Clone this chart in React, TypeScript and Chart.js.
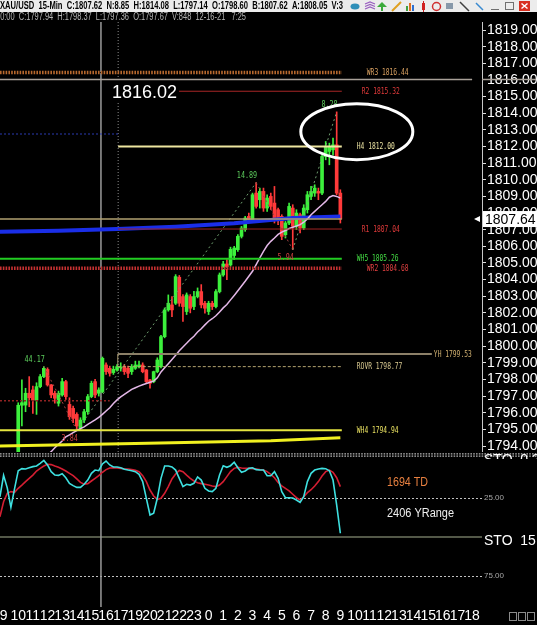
import React, { useEffect, useRef } from "react";
import { Chart, registerables } from "chart.js";
Chart.register(...registerables);

// ---------- DATA ----------
const HEADER_LINE_1 = "XAU/USD  15-Min  C:1807.62  N:8.85  H:1814.08  L:1797.14  O:1798.60  B:1807.62  A:1808.05  V:3";
const HEADER_LINE_2 = "20:00  C:1797.94  H:1798.37  L:1797.36  O:1797.67  V:848  12-16-21   7:25";

const HOUR_LABELS = ["9","10","11","12","13","14","15","16","17","19","20","21","22","23","0","1","2","3","4","5","6","7","8","9","10","11","12","13","14","15","16","17","18"];
const PRICE_TICKS = [1794,1795,1796,1797,1798,1799,1800,1801,1802,1803,1804,1805,1806,1807,1808,1809,1810,1811,1812,1813,1814,1815,1816,1817,1818,1819];

const FIRST_CANDLE_SLOT = 4;
const OPENS = [1793.5,1796.45,1796.46,1797.17,1797.37,1796.76,1797.57,1798.17,1798.6,1797.67,1797.17,1796.57,1797.07,1797.87,1796.5,1796.26,1795.9,1795.06,1795.56,1796.06,1796.97,1797.87,1797.17,1797.27,1798.87,1798.67,1798.41,1798.57,1798.7,1798.77,1798.67,1798.47,1798.67,1798.77,1798.87,1798.57,1797.97,1797.87,1798.47,1798.77,1800.57,1802.18,1802.48,1802.58,1804.14,1802.98,1802.08,1802.98,1802.38,1802.98,1803.28,1802.58,1802.08,1802.58,1802.38,1803.28,1804.28,1804.94,1804.88,1805.45,1805.8,1806.6,1807.0,1807.8,1807.6,1809.2,1808.8,1809.3,1808.3,1809.0,1808.6,1808.2,1807.8,1806.7,1807.4,1808.3,1807.2,1807.9,1807.1,1808.2,1809.0,1809.2,1809.3,1809.2,1811.4,1811.7,1811.8,1812.1,1809.2];
const HIGHS = [1796.6,1797.97,1797.47,1798.17,1797.6,1797.8,1798.3,1798.78,1798.7,1797.7,1797.3,1797.3,1798.07,1797.95,1796.9,1796.4,1796.0,1795.7,1796.2,1797.1,1797.9,1798.0,1797.5,1799.35,1799.0,1798.8,1798.8,1798.9,1799.0,1798.9,1798.8,1798.9,1799.1,1799.1,1799.0,1798.6,1798.0,1798.5,1799.3,1800.65,1802.3,1803.08,1802.98,1804.3,1804.25,1803.1,1803.2,1803.1,1803.3,1803.5,1803.7,1802.7,1802.7,1802.7,1803.4,1804.4,1805.1,1805.2,1805.95,1806.0,1806.7,1807.2,1807.8,1808.0,1809.2,1809.83,1809.5,1809.5,1809.1,1809.2,1809.6,1808.3,1807.9,1807.5,1808.6,1808.5,1808.2,1808.0,1808.5,1809.3,1809.6,1809.7,1809.5,1811.5,1812.3,1812.2,1812.5,1814.08,1809.4];
const LOWS = [1793.3,1795.2,1796.06,1796.36,1795.96,1795.9,1797.5,1798.1,1797.6,1796.9,1796.57,1796.4,1797.0,1796.8,1795.6,1795.4,1794.94,1794.94,1795.4,1795.9,1796.9,1796.9,1797.0,1797.2,1798.3,1798.2,1798.3,1798.5,1798.5,1798.3,1798.1,1798.3,1798.6,1798.7,1798.4,1797.8,1797.47,1797.8,1798.4,1798.7,1800.5,1802.1,1801.78,1802.5,1802.4,1801.48,1801.9,1802.0,1802.2,1802.9,1802.3,1801.98,1801.9,1802.2,1802.3,1803.2,1804.2,1804.0,1804.8,1805.2,1805.7,1806.5,1806.9,1807.4,1807.5,1808.3,1808.3,1808.1,1808.1,1808.2,1807.4,1807.3,1806.4,1806.5,1807.3,1805.8,1807.0,1806.8,1807.0,1808.0,1808.8,1809.0,1808.8,1809.1,1811.2,1810.9,1811.5,1809.1,1807.4];
const CLOSES = [1796.45,1796.6,1797.17,1796.9,1796.76,1797.57,1798.17,1798.67,1797.67,1797.07,1796.87,1797.17,1797.87,1796.97,1795.76,1795.66,1795.2,1795.56,1796.06,1796.97,1797.77,1797.07,1797.37,1799.27,1798.47,1798.37,1798.61,1798.77,1798.75,1798.47,1798.37,1798.77,1798.87,1798.87,1798.47,1797.87,1797.77,1798.47,1799.17,1800.57,1802.18,1802.58,1802.18,1804.18,1802.58,1802.38,1803.08,1802.28,1802.98,1803.28,1802.48,1802.28,1802.58,1802.38,1803.28,1804.28,1804.94,1804.78,1805.82,1805.9,1806.6,1807.1,1807.7,1807.6,1809.1,1808.4,1809.3,1808.3,1808.9,1808.4,1807.7,1807.6,1806.6,1807.4,1808.4,1807.2,1808.0,1807.1,1808.3,1809.1,1809.3,1809.5,1809.2,1811.4,1812.0,1812.0,1812.1,1809.2,1807.64];

const STO_FIRST_SLOT = -1;
const STO_K = [24.2,10.5,18.5,31.0,19.0,7.5,6.2,6.4,5.6,4.9,4.5,2.8,0.9,3.8,8.1,10.3,10.5,9.4,12.0,15.6,17.1,18.2,18.2,16.2,13.5,9.2,7.1,7.5,3.2,1.3,3.8,5.1,5.1,5.6,6.6,7.1,7.5,8.1,9.8,14.5,25.2,35.9,34.8,25.2,12.4,4.5,4.5,5.1,7.1,12.4,17.7,16.2,16.7,15.6,11.5,13.5,18.8,20.5,20.9,18.8,10.3,4.3,5.3,4.3,2.1,5.6,8.5,7.7,6.0,5.6,6.8,7.1,7.1,10.7,10.7,8.1,12.4,20.9,24.8,24.8,25.0,26.3,27.8,24.2,14.5,9.2,7.1,6.4,6.0,6.2,7.5,13.5,29.5,47.6];
const STO_D = [37.0,27.4,22.0,20.9,21.4,18.8,16.7,14.5,12.4,10.3,7.7,6.0,4.5,3.4,3.6,4.5,5.3,6.4,7.7,9.2,10.7,12.8,15.0,16.2,15.8,14.1,12.4,10.7,8.5,6.8,5.8,5.6,5.8,6.0,6.4,6.4,6.8,7.3,8.1,10.7,14.5,19.9,23.7,25.9,25.2,22.0,17.7,12.8,9.6,7.3,8.1,10.3,12.4,14.1,15.2,15.8,16.2,16.7,17.3,17.7,16.7,14.5,11.3,8.1,6.0,5.3,5.8,6.0,6.0,6.2,6.4,6.8,7.1,8.1,9.8,12.0,15.0,17.3,18.8,20.5,22.6,24.8,26.3,24.2,21.6,19.7,17.3,14.5,10.9,8.1,7.1,8.5,12.0,17.7];

const PINK_FIRST_SLOT = 12;
const PINK_MA = [1793.45,1793.66,1793.9,1794.1,1794.3,1794.55,1794.67,1794.8,1794.92,1795.04,1795.15,1795.3,1795.43,1795.57,1795.72,1795.9,1796.1,1796.3,1796.55,1796.77,1796.95,1797.1,1797.25,1797.4,1797.5,1797.6,1797.68,1797.76,1797.83,1797.9,1798.1,1798.45,1798.7,1798.95,1799.2,1799.45,1799.72,1799.95,1800.17,1800.4,1800.6,1800.85,1801.05,1801.28,1801.5,1801.65,1801.83,1802.05,1802.3,1802.5,1802.78,1803.05,1803.33,1803.62,1803.9,1804.2,1804.5,1804.9,1805.3,1805.7,1806.05,1806.3,1806.5,1806.72,1806.85,1806.95,1807.07,1807.15,1807.22,1807.3,1807.45,1807.65,1807.9,1808.1,1808.3,1808.5,1808.7,1808.95,1809.05,1809.0,1808.9];
const BLUE_MA_SLOTS = [-1, 15, 31, 47, 63, 79, 92];
const BLUE_MA = [1806.88, 1806.94, 1807.04, 1807.18, 1807.38, 1807.7, 1807.8];
const YELLOW_MA_SLOTS = [-1, 36, 73, 92];
const YELLOW_MA = [1794.0, 1794.15, 1794.32, 1794.5];

const LEVEL_NAMES = ["WR3", "R2", "H4", "R1", "WH5", "WR2", "YH", "ROVR", "WH4"];
const LEVEL_VALUES = [1816.44, 1815.32, 1812.0, 1807.04, 1805.26, 1804.68, 1799.53, 1798.77, 1794.94];
const EXTRA_LEVELS = [1816.02, 1812.75, 1796.72, 1807.64];

const ZIG_SLOTS = [11, 20, 69, 79, 91];
const ZIG_PRICES = [1798.78, 1794.94, 1809.83, 1805.8, 1814.08];
const ZIG_LABELS = ["44.17", "3.84", "14.89", "5.94", "8.28"];

const LAST_PRICE = 1807.64;
const HIGH_MARK = "1816.02";
const TD_TEXT = "1694 TD";
const YRANGE_TEXT = "2406 YRange";

// ---------- STYLE ----------
const X_MIN = -0.98;
const X_MAX = 130.7;
const LINE_END = 92.4;
const GREEN = "#3cf03c";
const RED = "#ff3a3a";
const FONT = '"Liberation Sans", Arial, sans-serif';
const MONO = '"DejaVu Sans Mono", monospace';

type LevelStyle = { color: string; width: number; from: number; to: number; chain?: boolean; dash?: number[]; dx: number; label: string };
const LEVEL_STYLES: LevelStyle[] = [
  { color: "#b8692e", width: 4, from: X_MIN, to: LINE_END, chain: true, dx: 25, label: "#d8a060" },
  { color: "#a82626", width: 1, from: 31.3, to: LINE_END, dx: 20, label: "#e03a3a" },
  { color: "#eee6a0", width: 2, from: 31.3, to: LINE_END, dx: 15, label: "#e8e0a0" },
  { color: "#a02424", width: 1, from: 31.3, to: LINE_END, dx: 20, label: "#e03a3a" },
  { color: "#22cc22", width: 2, from: X_MIN, to: LINE_END, dx: 15, label: "#44dd44" },
  { color: "#c83232", width: 4, from: X_MIN, to: LINE_END, chain: true, dx: 25, label: "#e04040" },
  { color: "#8c8068", width: 2, from: 31.2, to: 117.0, dx: 2, label: "#d0b070" },
  { color: "#b4a470", width: 1, from: 31.2, to: LINE_END, dash: [3, 2], dx: 15, label: "#d8c890" },
  { color: "#e6e640", width: 2, from: X_MIN, to: LINE_END, dx: 15, label: "#e8e060" },
];
const EXTRA_STYLES = [
  { color: "#a8a098", width: 1.5, from: X_MIN, to: 128, dash: [] as number[] },
  { color: "#2a3ab0", width: 1, from: X_MIN, to: 31.3, dash: [2, 2] },
  { color: "#902222", width: 1.5, from: X_MIN, to: 29, dash: [2, 2] },
  { color: "#b0a070", width: 1.5, from: X_MIN, to: LINE_END, dash: [] as number[] },
];

function squeezeText(ctx: CanvasRenderingContext2D, text: string, x: number, y: number, sx: number, align: CanvasTextAlign = "left") {
  ctx.save();
  ctx.translate(x, y);
  ctx.scale(sx, 1);
  ctx.textAlign = align;
  ctx.fillText(text, 0, 0);
  ctx.restore();
}

function drawHeader(cv: HTMLCanvasElement) {
  const ctx = cv.getContext("2d");
  if (!ctx) return;
  ctx.fillStyle = "#000";
  ctx.fillRect(0, 0, 537, 22);
  ctx.fillStyle = "#ececec";
  ctx.fillRect(0, 0, 537, 12);
  ctx.textBaseline = "middle";
  ctx.fillStyle = "#000";
  ctx.font = `bold 10px ${FONT}`;
  ctx.fillText(HEADER_LINE_1, 0, 6.5, 343);
  ctx.fillStyle = "#b4b4b4";
  ctx.font = `10px ${FONT}`;
  ctx.fillText(HEADER_LINE_2, -4, 17, 250);
  // toolbar icons
  ctx.fillStyle = "#2f8fb8"; ctx.beginPath(); ctx.ellipse(355, 6.5, 4.5, 3, 0, 0, Math.PI * 2); ctx.fill();
  ctx.strokeStyle = "#9a5fc0"; ctx.lineWidth = 1.3;
  for (let k = 0; k < 3; k++) { ctx.beginPath(); ctx.moveTo(365, 9 - k * 2.5); ctx.lineTo(370, 5 - k * 2.5 + 2); ctx.lineTo(375, 9 - k * 2.5); ctx.stroke(); }
  ctx.fillStyle = "#3caa3c"; ctx.beginPath(); ctx.moveTo(382, 2); ctx.lineTo(387, 7); ctx.lineTo(377, 7); ctx.fill(); ctx.fillRect(381, 7, 2, 4);
  ctx.strokeStyle = "#e0a020"; ctx.lineWidth = 2; ctx.beginPath(); ctx.moveTo(392, 11); ctx.lineTo(401, 2); ctx.stroke();
  ctx.fillStyle = "#40a040"; ctx.fillRect(406, 6, 2, 5); ctx.fillStyle = "#e07020"; ctx.fillRect(409, 3, 2, 8); ctx.fillStyle = "#3070d0"; ctx.fillRect(412, 5, 2, 6);
  ctx.fillStyle = "#d02020"; ctx.fillRect(422, 3, 3, 7); ctx.fillRect(423, 1, 1, 11);
  ctx.strokeStyle = "#d03030"; ctx.lineWidth = 1.5; ctx.beginPath(); ctx.arc(436.5, 6.5, 4, 0, Math.PI * 2); ctx.stroke();
  ctx.fillStyle = "#8899aa"; ctx.fillRect(446, 3, 7, 6);
  ctx.strokeStyle = "#404040"; ctx.lineWidth = 1.5; ctx.beginPath(); ctx.moveTo(460, 2); ctx.lineTo(469, 11); ctx.stroke();
  ctx.strokeStyle = "#3a8ad0"; ctx.beginPath(); ctx.moveTo(476, 3); ctx.lineTo(483, 10); ctx.stroke();
  ctx.strokeStyle = "#707070"; ctx.lineWidth = 1; ctx.beginPath(); ctx.moveTo(491, 9.5); ctx.lineTo(499, 9.5); ctx.stroke();
  ctx.strokeRect(505.5, 2.5, 8, 7);
  ctx.fillStyle = "#d83020"; ctx.fillRect(519, 1, 11, 10);
  ctx.strokeStyle = "#fff"; ctx.lineWidth = 1.5; ctx.beginPath(); ctx.moveTo(521.5, 3.5); ctx.lineTo(527.5, 8.5); ctx.moveTo(527.5, 3.5); ctx.lineTo(521.5, 8.5); ctx.stroke();
}

function lineDS(points: { x: number; y: number }[], color: string, width: number, dash: number[] = [], extra: any = {}) {
  return { type: "line" as const, data: points, borderColor: color, borderWidth: width, borderDash: dash, pointRadius: 0, tension: 0, fill: false, order: 0, ...extra };
}

function chainLine(ctx: CanvasRenderingContext2D, x0: number, x1: number, y: number, color: string) {
  ctx.save();
  ctx.strokeStyle = color; ctx.lineWidth = 3.5; ctx.setLineDash([1.6, 1.2]);
  ctx.beginPath(); ctx.moveTo(x0, y); ctx.lineTo(x1, y); ctx.stroke();
  ctx.setLineDash([]); ctx.strokeStyle = "#000"; ctx.lineWidth = 1;
  ctx.beginPath(); ctx.moveTo(x0, y); ctx.lineTo(x1, y); ctx.stroke();
  ctx.restore();
}

export default function App() {
  const headRef = useRef<HTMLCanvasElement>(null);
  const priceRef = useRef<HTMLCanvasElement>(null);
  const oscRef = useRef<HTMLCanvasElement>(null);

  useEffect(() => {
    if (headRef.current) drawHeader(headRef.current);

    const bodyData = OPENS.map((o, i) => ({ x: FIRST_CANDLE_SLOT + i, y: [o, CLOSES[i]] }));
    const wickData = OPENS.map((_, i) => ({ x: FIRST_CANDLE_SLOT + i, y: [LOWS[i], HIGHS[i]] }));
    const candleColors = OPENS.map((o, i) => (CLOSES[i] >= o ? GREEN : RED));

    const levelSets: any[] = [];
    LEVEL_VALUES.forEach((v, i) => {
      const st = LEVEL_STYLES[i];
      const pts = [{ x: st.from, y: v }, { x: st.to, y: v }];
      if (st.chain) {
        levelSets.push(lineDS(pts, st.color, 3.5, [1.6, 1.2]));
        levelSets.push(lineDS(pts, "#000", 1));
      } else {
        levelSets.push(lineDS(pts, st.color, st.width, st.dash || []));
      }
    });
    EXTRA_LEVELS.forEach((v, i) => {
      const st = EXTRA_STYLES[i];
      levelSets.push(lineDS([{ x: st.from, y: v }, { x: st.to, y: v }], st.color, st.width, st.dash));
    });

    const zigSet = lineDS(ZIG_SLOTS.map((s, i) => ({ x: s, y: ZIG_PRICES[i] })), "#6a9a6a", 1, [2, 3], {
      segment: { borderColor: (c: any) => (c.p1.parsed.y > c.p0.parsed.y ? "#6f9f6f" : "#a04444") },
    });

    const pricePlugin = {
      id: "priceDecor",
      beforeDatasetsDraw(chart: any) {
        const { ctx, chartArea: a, scales } = chart;
        const xs = scales.x;
        ctx.save();
        ctx.strokeStyle = "#9a9a9a"; ctx.lineWidth = 1.5;
        const vx = xs.getPixelForValue(26.6);
        ctx.beginPath(); ctx.moveTo(vx, a.top); ctx.lineTo(vx, a.bottom); ctx.stroke();
        ctx.strokeStyle = "#8a8a8a"; ctx.lineWidth = 1; ctx.setLineDash([1, 2]);
        const dx = xs.getPixelForValue(31.3);
        ctx.beginPath(); ctx.moveTo(dx, a.top); ctx.lineTo(dx, a.bottom); ctx.stroke();
        ctx.restore();
      },
      afterDatasetsDraw(chart: any) {
        const { ctx, scales } = chart;
        const xs = scales.x, ys = scales.y;
        ctx.save();
        // YH box side
        ctx.strokeStyle = "#a89870"; ctx.lineWidth = 1;
        const bx = xs.getPixelForValue(31.2);
        ctx.beginPath(); ctx.moveTo(bx, ys.getPixelForValue(LEVEL_VALUES[6])); ctx.lineTo(bx, ys.getPixelForValue(LEVEL_VALUES[7])); ctx.stroke();
        // level labels
        ctx.font = `9px ${MONO}`;
        ctx.textBaseline = "middle";
        LEVEL_NAMES.forEach((n, i) => {
          const st = LEVEL_STYLES[i];
          ctx.fillStyle = st.label;
          squeezeText(ctx, `${n} ${LEVEL_VALUES[i].toFixed(2)}`, xs.getPixelForValue(st.to) + st.dx, ys.getPixelForValue(LEVEL_VALUES[i]) + 0.5, 0.7);
        });
        // zigzag labels
        ZIG_LABELS.forEach((t, i) => {
          const up = i === 0 ? true : ZIG_PRICES[i] > ZIG_PRICES[i - 1];
          ctx.fillStyle = up ? "#5ccc5c" : "#d04040";
          const px = xs.getPixelForValue(ZIG_SLOTS[i]) + 1;
          const py = ys.getPixelForValue(ZIG_PRICES[i]) + (up ? -7 : 8);
          squeezeText(ctx, t, px, py, 0.75, "right");
        });
        // big high text
        const hy = ys.getPixelForValue(1815.3);
        ctx.font = `18px ${FONT}`;
        const tw = ctx.measureText(HIGH_MARK).width;
        ctx.fillStyle = "#000";
        ctx.fillRect(110, hy - 10, tw + 4, 20);
        ctx.fillStyle = "#fff";
        ctx.textAlign = "left";
        ctx.fillText(HIGH_MARK, 112, hy + 1);
        // ellipse
        ctx.strokeStyle = "#fff"; ctx.lineWidth = 3;
        ctx.beginPath();
        ctx.ellipse(xs.getPixelForValue(96.5), ys.getPixelForValue(1812.89), 56, 28, 0, 0, Math.PI * 2);
        ctx.stroke();
        ctx.restore();
      },
      afterDraw(chart: any) {
        const { ctx, chartArea: a, scales } = chart;
        const ys = scales.y;
        ctx.save();
        const sy = ys.getPixelForValue(EXTRA_LEVELS[0]);
        ctx.strokeStyle = "#a8a098"; ctx.lineWidth = 1.5;
        ctx.beginPath(); ctx.moveTo(a.right, sy); ctx.lineTo(536, sy); ctx.stroke();
        const py = ys.getPixelForValue(LAST_PRICE);
        ctx.fillStyle = "#fff";
        ctx.beginPath(); ctx.moveTo(a.right - 8, py); ctx.lineTo(a.right - 2, py - 3); ctx.lineTo(a.right - 2, py + 3); ctx.fill();
        ctx.fillRect(a.right + 1, py - 8, 55, 16);
        ctx.fillStyle = "#000";
        ctx.font = `14px ${FONT}`;
        ctx.textBaseline = "middle";
        ctx.fillText(LAST_PRICE.toFixed(2), a.right + 3, py + 1);
        ctx.restore();
      },
    };

    const priceChart = new Chart(priceRef.current as HTMLCanvasElement, {
      type: "bar",
      data: {
        datasets: [
          ...levelSets,
          lineDS(YELLOW_MA_SLOTS.map((s, i) => ({ x: s, y: YELLOW_MA[i] })), "#f0f020", 3),
          lineDS(PINK_MA.map((v, i) => ({ x: PINK_FIRST_SLOT + i, y: v })), "#e4b8e8", 1.5),
          lineDS(BLUE_MA_SLOTS.map((s, i) => ({ x: s, y: BLUE_MA[i] })), "#1a2ee8", 4),
          zigSet,
          { type: "bar", data: bodyData, backgroundColor: candleColors, barThickness: 3, grouped: false, borderWidth: 0, order: 10 },
          { type: "bar", data: wickData, backgroundColor: candleColors, barThickness: 1, grouped: false, borderWidth: 0, order: 11 },
        ] as any,
      },
      options: {
        animation: false,
        responsive: true,
        maintainAspectRatio: false,
        events: [],
        layout: { padding: 0 },
        plugins: { legend: { display: false }, tooltip: { enabled: false } },
        scales: {
          x: { type: "linear", min: X_MIN, max: X_MAX, offset: false, display: false },
          y: {
            type: "linear",
            position: "right",
            min: 1793.64,
            max: 1819.481,
            afterBuildTicks: (s: any) => { s.ticks = PRICE_TICKS.map((v) => ({ value: v })); },
            ticks: { color: "#fff", font: { family: FONT, size: 14 }, padding: 1, autoSkip: false, callback: (v: any) => Number(v).toFixed(2) },
            grid: { display: true, drawOnChartArea: false, drawTicks: true, tickLength: 4, color: "#dddddd" },
            border: { display: true, color: "#c8c8c8", width: 1 },
            afterFit: (s: any) => { s.width = 55; s.paddingTop = 0; s.paddingBottom = 0; },
          },
        },
      } as any,
      plugins: [pricePlugin],
    });

    const oscPlugin = {
      id: "oscDecor",
      beforeDatasetsDraw(chart: any) {
        const { ctx, chartArea: a, scales } = chart;
        const xs = scales.x, ys = scales.y;
        ctx.save();
        chainLine(ctx, 0, 537, 3, "#b8b8b8");
        ctx.strokeStyle = "#c0c0c0"; ctx.lineWidth = 1; ctx.setLineDash([2, 2]);
        [25, 75].forEach((v) => {
          const y = Math.round(ys.getPixelForValue(v)) + 0.5;
          ctx.beginPath(); ctx.moveTo(0, y); ctx.lineTo(a.right, y); ctx.stroke();
        });
        ctx.setLineDash([]);
        ctx.strokeStyle = "#6f7660"; ctx.lineWidth = 1.5;
        const y50 = ys.getPixelForValue(50);
        ctx.beginPath(); ctx.moveTo(0, y50); ctx.lineTo(a.right, y50); ctx.stroke();
        ctx.strokeStyle = "#9a9a9a"; ctx.lineWidth = 1.5;
        const vx = xs.getPixelForValue(26.6);
        ctx.beginPath(); ctx.moveTo(vx, 0); ctx.lineTo(vx, a.bottom); ctx.stroke();
        ctx.restore();
      },
      afterDraw(chart: any) {
        const { ctx, chartArea: a, scales } = chart;
        const ys = scales.y;
        ctx.save();
        ctx.textBaseline = "middle";
        ctx.fillStyle = "#a8a8a8";
        ctx.font = `8px ${FONT}`;
        ctx.fillText("25.00", a.right + 2, ys.getPixelForValue(25));
        ctx.fillText("75.00", a.right + 2, ys.getPixelForValue(75));
        ctx.fillStyle = "#fff";
        ctx.font = `14px ${FONT}`;
        ctx.fillText("STO  15,", a.right + 2, ys.getPixelForValue(50) + 4);
        ctx.fillStyle = "#e88040";
        ctx.font = `12px ${FONT}`;
        ctx.fillText(TD_TEXT, 387, 31, 41);
        ctx.fillStyle = "#f0f0f0";
        ctx.fillText(YRANGE_TEXT, 387, 62, 67);
        ctx.save();
        ctx.beginPath(); ctx.rect(a.right, 0, 60, 7); ctx.clip();
        ctx.fillStyle = "#fff"; ctx.font = `14px ${FONT}`; ctx.textBaseline = "top";
        ctx.fillText("STO  0.2", a.right + 2, 1);
        ctx.restore();
        ctx.strokeStyle = "#8a8a8a"; ctx.lineWidth = 1;
        [509, 518, 527].forEach((x) => ctx.strokeRect(x + 0.5, 160.5, 7, 8));
        ctx.restore();
      },
    };

    const oscChart = new Chart(oscRef.current as HTMLCanvasElement, {
      type: "line",
      data: {
        datasets: [
          { data: STO_K.map((v, i) => ({ x: STO_FIRST_SLOT + i, y: v })), borderColor: "#3ee0e0", borderWidth: 1.6, pointRadius: 0, tension: 0, order: 0 },
          { data: STO_D.map((v, i) => ({ x: STO_FIRST_SLOT + i, y: v })), borderColor: "#d41e32", borderWidth: 1.6, pointRadius: 0, tension: 0, order: 1 },
        ],
      },
      options: {
        animation: false,
        responsive: true,
        maintainAspectRatio: false,
        events: [],
        layout: { padding: { top: 4 } },
        plugins: { legend: { display: false }, tooltip: { enabled: false } },
        scales: {
          x: {
            type: "linear",
            min: X_MIN,
            max: X_MAX,
            offset: false,
            afterBuildTicks: (s: any) => { s.ticks = HOUR_LABELS.map((_, i) => ({ value: i * 4 })); },
            ticks: { color: "#fff", font: { family: FONT, size: 14 }, autoSkip: false, maxRotation: 0, minRotation: 0, padding: 1, callback: (v: any) => HOUR_LABELS[Math.round(Number(v) / 4)] },
            grid: { display: false, drawTicks: false },
            border: { display: false },
            afterFit: (s: any) => { s.height = 18; s.paddingLeft = 0; s.paddingRight = 0; },
          },
          y: {
            type: "linear",
            position: "right",
            reverse: true,
            min: -1.92,
            max: 94.87,
            ticks: { display: false },
            grid: { display: false, drawTicks: false },
            border: { display: false },
            afterFit: (s: any) => { s.width = 55; s.paddingTop = 0; s.paddingBottom = 0; },
          },
        },
      } as any,
      plugins: [oscPlugin],
    });

    return () => {
      priceChart.destroy();
      oscChart.destroy();
    };
  }, []);

  return (
    <div style={{ position: "fixed", left: 0, top: 0, width: 537, height: 625, background: "#000", overflow: "hidden" }}>
      <canvas ref={headRef} width={537} height={22} style={{ position: "absolute", left: 0, top: 0 }} />
      <div style={{ position: "absolute", left: 0, top: 22, width: 537, height: 430 }}>
        <canvas ref={priceRef} />
      </div>
      <div style={{ position: "absolute", left: 0, top: 452, width: 537, height: 173 }}>
        <canvas ref={oscRef} />
      </div>
    </div>
  );
}
